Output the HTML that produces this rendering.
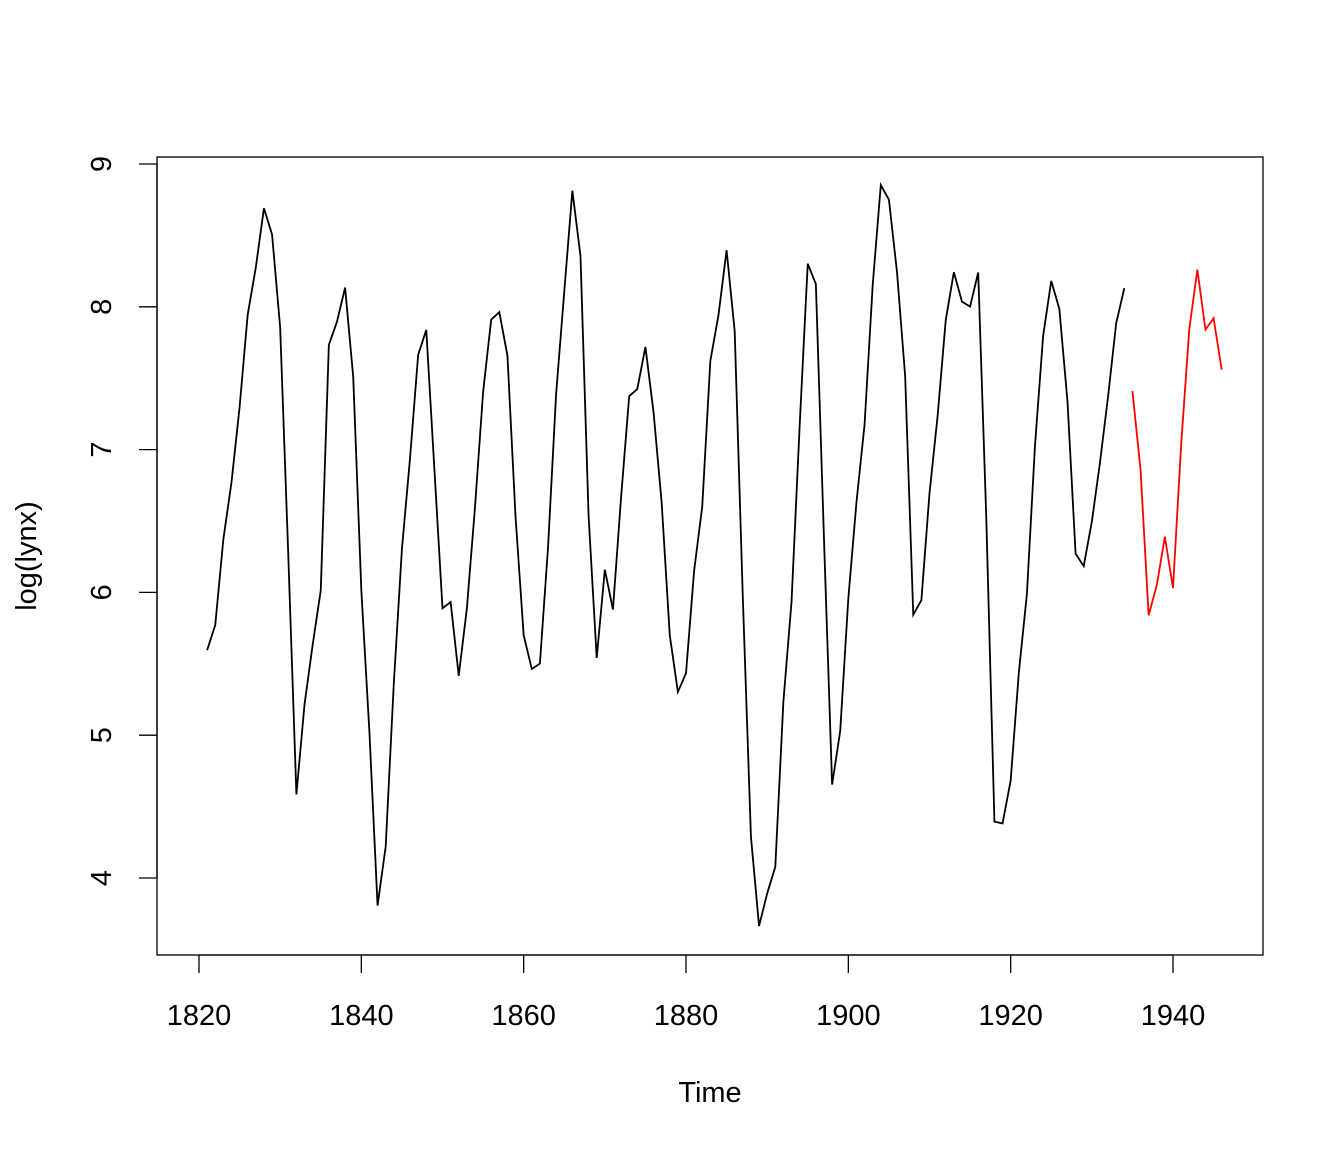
<!DOCTYPE html>
<html><head><meta charset="utf-8"><style>
body{margin:0;background:#fff}
svg text{font-family:"Liberation Sans",Arial,sans-serif;fill:#000}
</style></head><body>
<svg id="chart" width="1344" height="1152" xmlns="http://www.w3.org/2000/svg">
<rect x="157" y="157" width="1106" height="798" fill="none" stroke="#000" stroke-width="1.3"/>
<g id="xaxis"></g>
<g id="yaxis"></g>
<text x="710" y="1102" font-size="29" text-anchor="middle">Time</text>
<text transform="translate(36,556) rotate(-90)" font-size="29" text-anchor="middle">log(lynx)</text>
<polyline id="obs" fill="none" stroke="#000" stroke-width="1.8"/>
<polyline id="fc" fill="none" stroke="#f00" stroke-width="1.8"/>
</svg>
<script>
const obsStart = 1821;
const lynxCounts = [269,321,585,871,1475,2821,3928,5943,4950,2577,523,98,184,279,409,2285,2685,3409,1824,409,151,45,68,213,546,1033,2129,2536,957,361,377,225,360,731,1638,2725,2871,2119,684,299,236,245,552,1623,3311,6721,4254,687,255,473,358,784,1594,1676,2251,1426,756,299,201,229,469,736,2042,2811,4431,2511,389,73,39,49,59,188,377,1292,4031,3495,587,105,153,387,758,1307,3465,6991,6313,3794,1836,345,382,808,1388,2713,3800,3091,2985,3790,674,81,80,108,229,399,1132,2432,3574,2935,1537,529,485,662,1000,1590,2657,3396];
const fcStart = 1935;
const forecastLog = [7.41,6.86,5.84,6.05,6.39,6.03,7.03,7.84,8.26,7.84,7.92,7.56];
const xTicks = [1820,1840,1860,1880,1900,1920,1940];
const yTicks = [4,5,6,7,8,9];
const X = t => 199 + (t-1820)*(1173-199)/120;
const Y = v => 164 + (9-v)*(878-164)/5;
const NS="http://www.w3.org/2000/svg";
document.getElementById('obs').setAttribute('points', lynxCounts.map((c,i)=>X(obsStart+i)+','+Y(Math.log(c))).join(' '));
document.getElementById('fc').setAttribute('points', forecastLog.map((v,i)=>X(fcStart+i)+','+Y(v)).join(' '));
const xa=document.getElementById('xaxis');
const xl=document.createElementNS(NS,'line');
xl.setAttribute('x1',X(1820));xl.setAttribute('x2',X(1940));xl.setAttribute('y1',955);xl.setAttribute('y2',955);xl.setAttribute('stroke','#000');xl.setAttribute('stroke-width','1.3');
xa.appendChild(xl);
xTicks.forEach(t=>{
  const l=document.createElementNS(NS,'line');
  
  
  l.setAttribute('x1',X(t));l.setAttribute('x2',X(t));l.setAttribute('y1',955);l.setAttribute('y2',973);l.setAttribute('stroke','#000');l.setAttribute('stroke-width','1.3');
  xa.appendChild(l);
  const s=document.createElementNS(NS,'text');
  
  
  s.setAttribute('x',X(t));s.setAttribute('y',1025);s.setAttribute('font-size','29');s.setAttribute('text-anchor','middle');
  s.textContent=t;xa.appendChild(s);
});
const ya=document.getElementById('yaxis');
const yl=document.createElementNS(NS,'line');
yl.setAttribute('x1',157);yl.setAttribute('x2',157);yl.setAttribute('y1',Y(4));yl.setAttribute('y2',Y(9));yl.setAttribute('stroke','#000');yl.setAttribute('stroke-width','1.3');
ya.appendChild(yl);
yTicks.forEach(v=>{
  const l=document.createElementNS(NS,'line');
  
  
  l.setAttribute('x1',139);l.setAttribute('x2',157);l.setAttribute('y1',Y(v));l.setAttribute('y2',Y(v));l.setAttribute('stroke','#000');l.setAttribute('stroke-width','1.3');
  ya.appendChild(l);
  const s=document.createElementNS(NS,'text');
  
  
  s.setAttribute('transform','translate(111,'+Y(v)+') rotate(-90)');s.setAttribute('font-size','29');s.setAttribute('text-anchor','middle');
  s.textContent=v;ya.appendChild(s);
});
</script>
</body></html>
